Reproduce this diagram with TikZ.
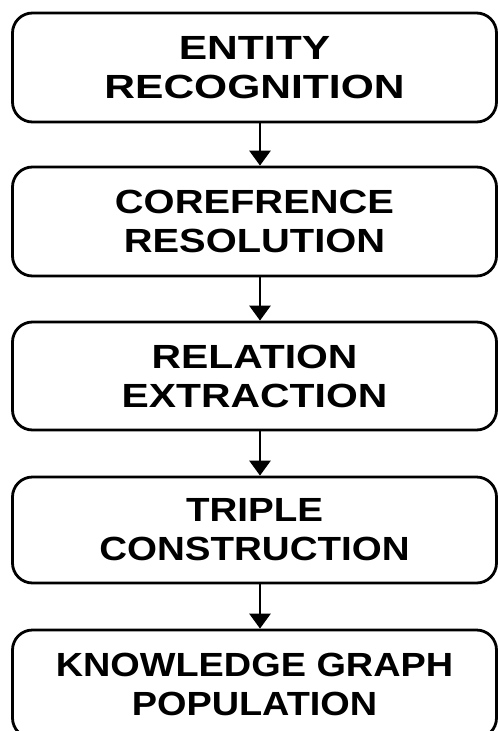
\documentclass[tikz,border=0pt]{standalone}
\usepackage{fontspec}
\setmainfont{Liberation Sans}[FakeStretch=1.15]
\newfontfamily\fontA{Liberation Sans}[FakeStretch=1.27]
\newfontfamily\fontB{Liberation Sans}[FakeStretch=1.19]
\newfontfamily\fontC{Liberation Sans}[FakeStretch=1.22]
\newfontfamily\fontD{Liberation Sans}[FakeStretch=1.15]
\newfontfamily\fontE{Liberation Sans}[FakeStretch=1.13]
\usetikzlibrary{arrows.meta}
\tikzset{
  stagebox/.style={draw=black, line width=2.8pt, rounded corners=20pt, fill=white,
    minimum width=484pt, align=center, text=black,
    font=\bfseries\fontsize{33.5}{39}\selectfont},
  flowarrow/.style={draw=black, line width=2.8pt, -{Triangle[width=21pt,length=15pt]}}
}
\begin{document}
\begin{tikzpicture}[x=1pt,y=-1pt]
\clip (0,0) rectangle (498,731);
\fill[white] (0,0) rectangle (498,731);
\node[stagebox, minimum height=109pt, font=\fontA\bfseries\fontsize{33.5}{39}\selectfont] (b1) at (254.5,67.5) {ENTITY\\RECOGNITION};
\node[stagebox, minimum height=109pt, font=\fontB\bfseries\fontsize{33.5}{39}\selectfont] (b2) at (254.5,221.5) {COREFRENCE\\RESOLUTION};
\node[stagebox, minimum height=108pt, font=\fontC\bfseries\fontsize{33.5}{39}\selectfont] (b3) at (254.5,376) {RELATION\\EXTRACTION};
\node[stagebox, minimum height=106pt, font=\fontD\bfseries\fontsize{33.5}{39}\selectfont] (b4) at (254.5,530) {TRIPLE\\CONSTRUCTION};
\node[stagebox, minimum height=108pt, font=\fontE\bfseries\fontsize{33.5}{39}\selectfont] (b5) at (254.5,684) {KNOWLEDGE GRAPH\\POPULATION};
\draw[flowarrow] ([xshift=5.5pt]b1.south) -- ([xshift=5.5pt]b2.north);
\draw[flowarrow] ([xshift=5.5pt]b2.south) -- ([xshift=5.5pt]b3.north);
\draw[flowarrow] ([xshift=5.5pt]b3.south) -- ([xshift=5.5pt]b4.north);
\draw[flowarrow] ([xshift=5.5pt]b4.south) -- ([xshift=5.5pt]b5.north);
\end{tikzpicture}
\end{document}
